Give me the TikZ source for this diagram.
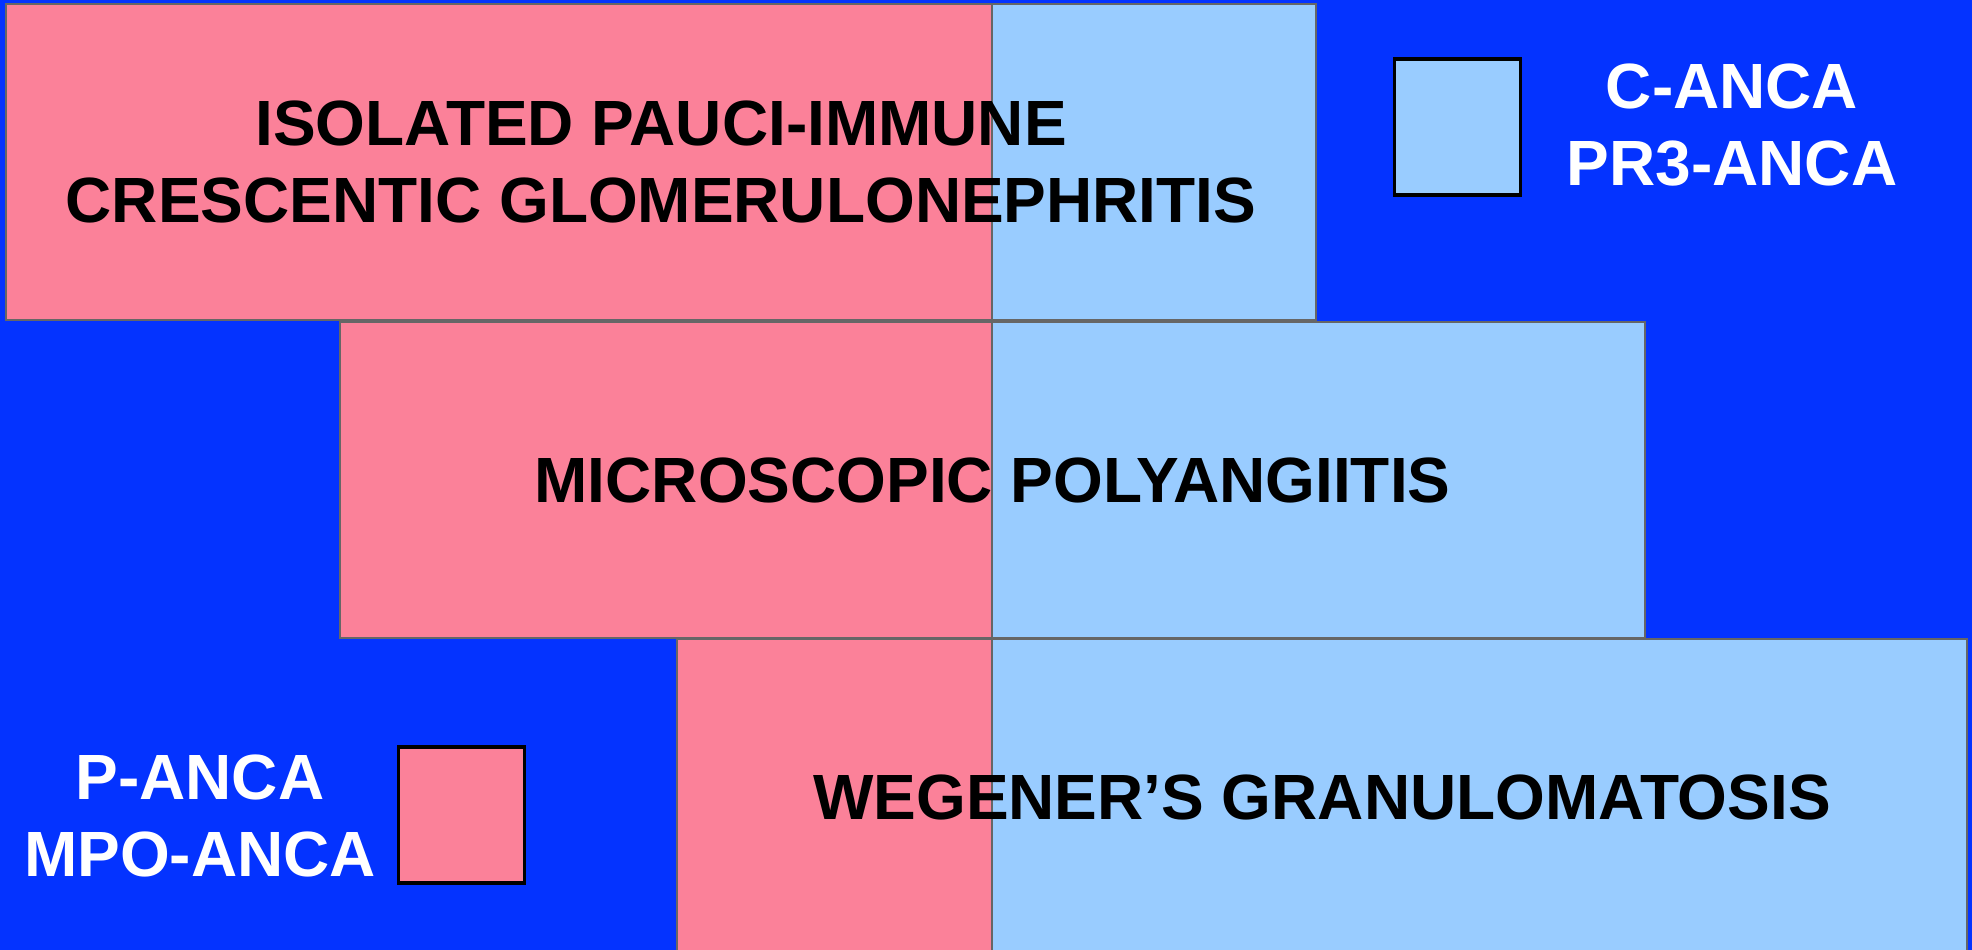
\documentclass[tikz,border=0pt]{standalone}
\usepackage{fontspec}
\setmainfont{Liberation Sans}
\usetikzlibrary{backgrounds}

\definecolor{bgblue}{HTML}{0433FF}
\definecolor{pinkfill}{HTML}{FB8199}
\definecolor{skyfill}{HTML}{99CCFF}
\definecolor{edgegrey}{HTML}{666666}

\tikzset{
  disease/.style={rectangle, draw=edgegrey, line width=0.8pt, inner sep=0pt,
    align=center, font=\bfseries\fontsize{18.2}{21.9}\selectfont},
  keybox/.style={rectangle, draw=black, line width=1.1pt, inner sep=0pt,
    minimum width=1.26cm, minimum height=1.36cm},
  keytext/.style={align=center, text=white,
    font=\bfseries\fontsize{18.2}{21.9}\selectfont}
}

\begin{document}
\begin{tikzpicture}
    \useasboundingbox (0,0) rectangle (19.72,9.5);

    % the three diseases
    \node[disease, minimum width=13.10cm, minimum height=3.16cm] (ipcg) at (6.61,7.88)
        {ISOLATED PAUCI-IMMUNE\\CRESCENTIC GLOMERULONEPHRITIS};
    \node[disease, minimum width=13.05cm, minimum height=3.16cm] (mpa) at (9.925,4.70)
        {MICROSCOPIC POLYANGIITIS};
    \node[disease, minimum width=12.90cm, minimum height=3.16cm] (wg) at (13.22,1.53)
        {WEGENER’S GRANULOMATOSIS};
    \coordinate (split) at (9.92,0);

    % key
    \node[keybox, fill=skyfill] (ckey) at (14.575,8.23) {};
    \node[keytext] (ctext) at (17.32,8.25) {C-ANCA\\PR3-ANCA};
    \node[keybox, fill=pinkfill] (pkey) at (4.615,1.35) {};
    \node[keytext] (ptext) at (2.00,1.34) {P-ANCA\\MPO-ANCA};

    % fills behind the boxes
    \begin{scope}[on background layer]
        \fill[bgblue] (0,0) rectangle (19.72,9.5);
        \foreach \dis in {ipcg,mpa,wg} {
            \fill[pinkfill] (\dis.south west) rectangle (\dis.north west -| split);
            \fill[skyfill] (\dis.south east) rectangle (\dis.north west -| split);
            \draw[edgegrey, line width=0.8pt] (\dis.south west -| split) -- (\dis.north west -| split);
        }
    \end{scope}
\end{tikzpicture}
\end{document}
